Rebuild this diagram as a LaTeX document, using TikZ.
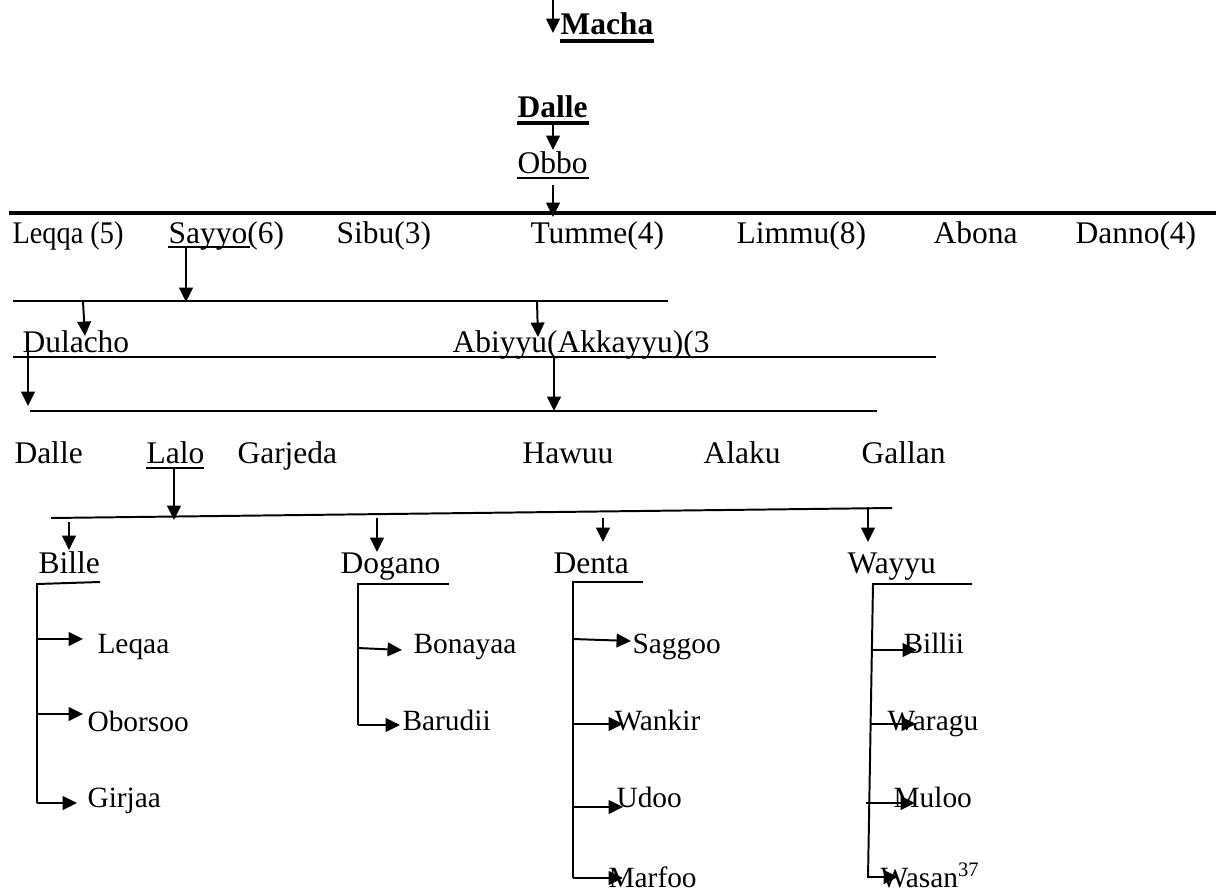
\documentclass[tikz,border=0pt]{standalone}
\usepackage{fontspec}
\setmainfont{Liberation Serif}
\usetikzlibrary{arrows.meta}
\begin{document}
\begin{tikzpicture}[x=0.381pt,y=-0.381pt,
  lbl/.style={anchor=base west,inner sep=0pt,font=\fontsize{12}{14}\selectfont},
  bld/.style={anchor=base west,inner sep=0pt,font=\fontsize{12}{14}\selectfont\bfseries},
  leaf/.style={anchor=base west,inner sep=0pt,font=\fontsize{11.2}{13}\selectfont},
  conn/.style={line width=0.75pt,-{Triangle[width=5.2pt,length=5.5pt]}},
  rule/.style={line width=0.75pt},
  thickrule/.style={line width=1.6pt},
  ulbold/.style={line width=1.15pt},
  ul/.style={line width=0.8pt}]
\useasboundingbox (0,0) rectangle (1216,891);

% top
\node[bld] (macha) at (560,35) {Macha};
\node[bld] (dalle) at (517,117) {Dalle};
\node[lbl] (obbo) at (517,173) {Obbo};
\draw[ulbold] (560,41) -- (654,41);
\draw[ulbold] (517,123) -- (589,123);
\draw[ul] (517,178) -- (589,178);

\coordinate (a0) at (553,0);   \coordinate (a1) at (553,33);
\coordinate (b0) at (553,123); \coordinate (b1) at (553,150);
\coordinate (c0) at (553,185); \coordinate (c1) at (553,217);
\draw[conn] (a0) -- (a1);
\draw[conn] (b0) -- (b1);
\draw[conn] (c0) -- (c1);

\coordinate (L1a) at (9,213); \coordinate (L1b) at (1216,213);
\draw[thickrule] (L1a) -- (L1b);

% row 1
\node[lbl] (leqqa) at (12,243) {\scalebox{0.9}[1]{Leqqa (5)}};
\node[lbl] (sayyo) at (168,243) {Sayyo(6)};
\node[lbl] (sibu) at (336,243) {Sibu(3)};
\node[lbl] (tumme) at (530,243) {Tumme(4)};
\node[lbl] (limmu) at (736,243) {Limmu(8)};
\node[lbl] (abona) at (933,243) {Abona};
\node[lbl] (danno) at (1075,243) {Danno(4)};
\draw[ul] (168,247) -- (250,247);

\coordinate (d0) at (186,248); \coordinate (d1) at (186,302);
\draw[conn] (d0) -- (d1);
\coordinate (L2a) at (13,301); \coordinate (L2b) at (668,301);
\draw[rule] (L2a) -- (L2b);
\coordinate (e0) at (83,302); \coordinate (e1) at (85,336);
\coordinate (f0) at (537,302); \coordinate (f1) at (538,337);
\draw[conn] (e0) -- (e1);
\draw[conn] (f0) -- (f1);

% row 2
\node[lbl] (dulacho) at (22,352) {Dulacho};
\node[lbl] (abiyyu) at (452,352) {Abiyyu(Akkayyu)(3};
\coordinate (L3a) at (13,357); \coordinate (L3b) at (936,357);
\draw[rule] (L3a) -- (L3b);
\coordinate (g0) at (28,350); \coordinate (g1) at (28,406);
\coordinate (h0) at (554,357); \coordinate (h1) at (554,411);
\draw[conn] (g0) -- (g1);
\draw[conn] (h0) -- (h1);
\coordinate (L4a) at (30,411); \coordinate (L4b) at (877,411);
\draw[line width=0.6pt] (L4a) -- (L4b);

% row 3
\node[lbl] (dalle2) at (14,463) {Dalle};
\node[lbl] (lalo) at (146,463) {Lalo};
\node[lbl] (garjeda) at (237,463) {Garjeda};
\node[lbl] (hawuu) at (522,463) {Hawuu};
\node[lbl] (alaku) at (703,463) {Alaku};
\node[lbl] (gallan) at (861,463) {Gallan};
\draw[ul] (146,468) -- (204,468);
\coordinate (i0) at (174,469); \coordinate (i1) at (174,520);
\draw[conn] (i0) -- (i1);
\coordinate (L5a) at (51,518); \coordinate (L5b) at (892,508);
\draw[rule] (L5a) -- (L5b);

\coordinate (j0) at (69,522);  \coordinate (j1) at (69,550);
\coordinate (k0) at (377,518); \coordinate (k1) at (377,552);
\coordinate (m0) at (603,518); \coordinate (m1) at (603,542);
\coordinate (n0) at (868,507); \coordinate (n1) at (868,542);
\draw[conn] (j0) -- (j1);
\draw[conn] (k0) -- (k1);
\draw[conn] (m0) -- (m1);
\draw[conn] (n0) -- (n1);

% row 4
\node[lbl] (bille) at (38,573) {Bille};
\node[lbl] (dogano) at (340,573) {Dogano};
\node[lbl] (denta) at (553,573) {Denta};
\node[lbl] (wayyu) at (847,573) {Wayyu};

% Bille bracket
\draw[rule] (100,582) -- (37,584) -- (37,803);
\node[leaf] (leqaa) at (97,653) {Leqaa};
\node[leaf] (oborsoo) at (87,731) {Oborsoo};
\node[leaf] (girjaa) at (87,807) {Girjaa};
\coordinate (p1) at (37,639); \coordinate (p2) at (37,714); \coordinate (p3) at (37,803);
\draw[conn] (p1) -- (83,639);
\draw[conn] (p2) -- (83,714);
\draw[conn] (p3) -- (77,803);

% Dogano bracket
\draw[rule] (449,584) -- (358,584) -- (358,725);
\node[leaf] (bonayaa) at (413,653) {Bonayaa};
\node[leaf] (barudii) at (402,730) {Barudii};
\coordinate (q1) at (358,648); \coordinate (q2) at (358,725);
\draw[conn] (q1) -- (402,650);
\draw[conn] (q2) -- (400,725);

% Denta bracket
\draw[rule] (643,582) -- (573,582) -- (573,878);
\node[leaf] (saggoo) at (632,653) {Saggoo};
\node[leaf] (wankir) at (614,730) {Wankir};
\node[leaf] (udoo) at (616,807) {Udoo};
\node[leaf] (marfoo) at (608,887) {Marfoo};
\coordinate (r1) at (573,639); \coordinate (r2) at (573,724);
\coordinate (r3) at (573,807); \coordinate (r4) at (573,878);
\draw[conn] (r1) -- (631,641);
\draw[conn] (r2) -- (623,724);
\draw[conn] (r3) -- (623,807);
\draw[conn] (r4) -- (623,878);

% Wayyu bracket
\draw[rule] (972,584) -- (873,584) -- (868,878);
\node[leaf] (billii) at (903,653) {Billii};
\node[leaf] (waragu) at (887,730) {Waragu};
\node[leaf] (muloo) at (893,807) {Muloo};
\node[leaf] (wasan) at (880,887) {Wasan\textsuperscript{37}};
\coordinate (s1) at (872,650); \coordinate (s2) at (871,724);
\coordinate (s3) at (866,803); \coordinate (s4) at (868,877);
\draw[conn] (s1) -- (917,650);
\draw[conn] (s2) -- (916,724);
\draw[conn] (s3) -- (915,803);
\draw[conn] (s4) -- (898,877);
\end{tikzpicture}
\end{document}
